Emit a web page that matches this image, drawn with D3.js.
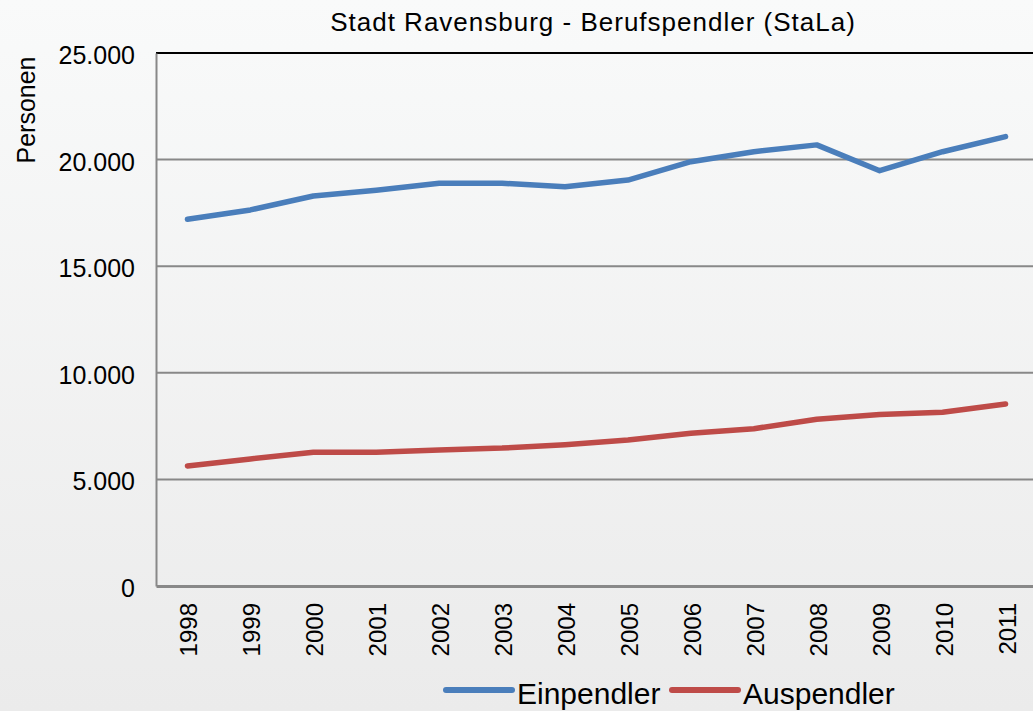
<!DOCTYPE html>
<html>
<head>
<meta charset="utf-8">
<script src="https://cdn.jsdelivr.net/npm/d3@7"></script>
<style>
  html, body { margin: 0; padding: 0; overflow: hidden; }
  body { width: 1033px; height: 711px; }
  text { font-family: "Liberation Sans", Arial, sans-serif; fill: #000; }
</style>
</head>
<body>
<div id="chart"></div>
<script>
const years = ['1998', '1999', '2000', '2001', '2002', '2003', '2004', '2005', '2006', '2007', '2008', '2009', '2010', '2011'];
const einpendler = [17200, 17640, 18290, 18560, 18890, 18890, 18730, 19040, 19900, 20370, 20690, 19480, 20370, 21080];
const auspendler = [5630, 5960, 6270, 6270, 6380, 6470, 6630, 6850, 7160, 7380, 7820, 8040, 8150, 8540];
const yTicks = [0, 5000, 10000, 15000, 20000, 25000];
const title = 'Stadt Ravensburg - Berufspendler (StaLa)';
const yLabel = 'Personen';

const series = [
  { name: 'Einpendler', values: einpendler, color: '#4a7ebb' },
  { name: 'Auspendler', values: auspendler, color: '#be4b48' }
];

const width = 1033, height = 711;
const plot = { left: 156, right: 1037, top: 53, bottom: 586 };

const de = d3.formatLocale({ decimal: ',', thousands: '.', grouping: [3], currency: ['', ' €'] });
const fmt = de.format(',d');

const svg = d3.select('#chart').append('svg')
  .attr('width', width)
  .attr('height', height);

// background gradient
const grad = svg.append('defs').append('linearGradient')
  .attr('id', 'bg').attr('x1', 0).attr('y1', 0).attr('x2', 0).attr('y2', 1);
grad.append('stop').attr('offset', '0%').attr('stop-color', '#f9fafa');
grad.append('stop').attr('offset', '100%').attr('stop-color', '#ebebeb');

svg.append('rect')
  .attr('width', width).attr('height', height)
  .attr('fill', 'url(#bg)');

const x = d3.scaleBand()
  .domain(years)
  .range([plot.left, plot.right])
  .padding(0);

const y = d3.scaleLinear()
  .domain([0, 25000])
  .range([plot.bottom, plot.top]);

// Gridlines
svg.append('g')
  .selectAll('line')
  .data(yTicks.filter(t => t > 0 && t < 25000))
  .join('line')
  .attr('x1', plot.left).attr('x2', plot.right)
  .attr('y1', d => y(d)).attr('y2', d => y(d))
  .attr('stroke', '#888')
  .attr('stroke-width', 2);

// top border
svg.append('line')
  .attr('x1', plot.left).attr('x2', plot.right)
  .attr('y1', y(25000)).attr('y2', y(25000))
  .attr('stroke', '#000')
  .attr('stroke-width', 2);

// Y axis
const yAxis = d3.axisLeft(y).tickValues(yTicks).tickFormat(fmt).tickSize(0).tickPadding(21);
const gy = svg.append('g')
  .attr('transform', `translate(${plot.left},0)`)
  .call(yAxis);
gy.select('.domain').attr('stroke', '#888').attr('stroke-width', 2);
gy.selectAll('text')
  .style('font-size', '25px')
  .attr('dy', '0.42em')
  .attr('fill', '#000');

// X axis
const xAxis = d3.axisBottom(x).tickSize(0);
const gx = svg.append('g')
  .attr('transform', `translate(0,${plot.bottom})`)
  .call(xAxis);
gx.select('.domain').attr('stroke', '#888').attr('stroke-width', 3);
gx.selectAll('text')
  .style('font-size', '24px')
  .attr('fill', '#000')
  .attr('text-anchor', 'end')
  .attr('dy', null)
  .attr('y', null)
  .attr('transform', 'translate(10,17) rotate(-90)');

// Lines
const line = d3.line()
  .x((d, i) => x(years[i]) + x.bandwidth() / 2)
  .y(d => y(d));

svg.append('g')
  .selectAll('path')
  .data(series)
  .join('path')
  .attr('fill', 'none')
  .attr('stroke', d => d.color)
  .attr('stroke-width', 5.5)
  .attr('stroke-linecap', 'round')
  .attr('stroke-linejoin', 'round')
  .attr('d', d => line(d.values));

// Title
svg.append('text')
  .attr('x', 593)
  .attr('y', 31)
  .attr('text-anchor', 'middle')
  .style('font-size', '26px')
  .style('letter-spacing', '1px')
  .text(title);

// Y label
svg.append('text')
  .attr('transform', 'translate(35,110) rotate(-90)')
  .attr('text-anchor', 'middle')
  .style('font-size', '25px')
  .text(yLabel);

// Legend
const legendPos = [446, 672];
const legend = svg.append('g')
  .selectAll('g')
  .data(series)
  .join('g')
  .attr('transform', (d, i) => `translate(${legendPos[i]},690)`);

legend.append('line')
  .attr('x1', 0).attr('x2', 66)
  .attr('stroke', d => d.color)
  .attr('stroke-width', 6)
  .attr('stroke-linecap', 'round');

legend.append('text')
  .attr('x', 71)
  .attr('y', 14)
  .style('font-size', '30px')
  .text(d => d.name);
</script>
</body>
</html>
